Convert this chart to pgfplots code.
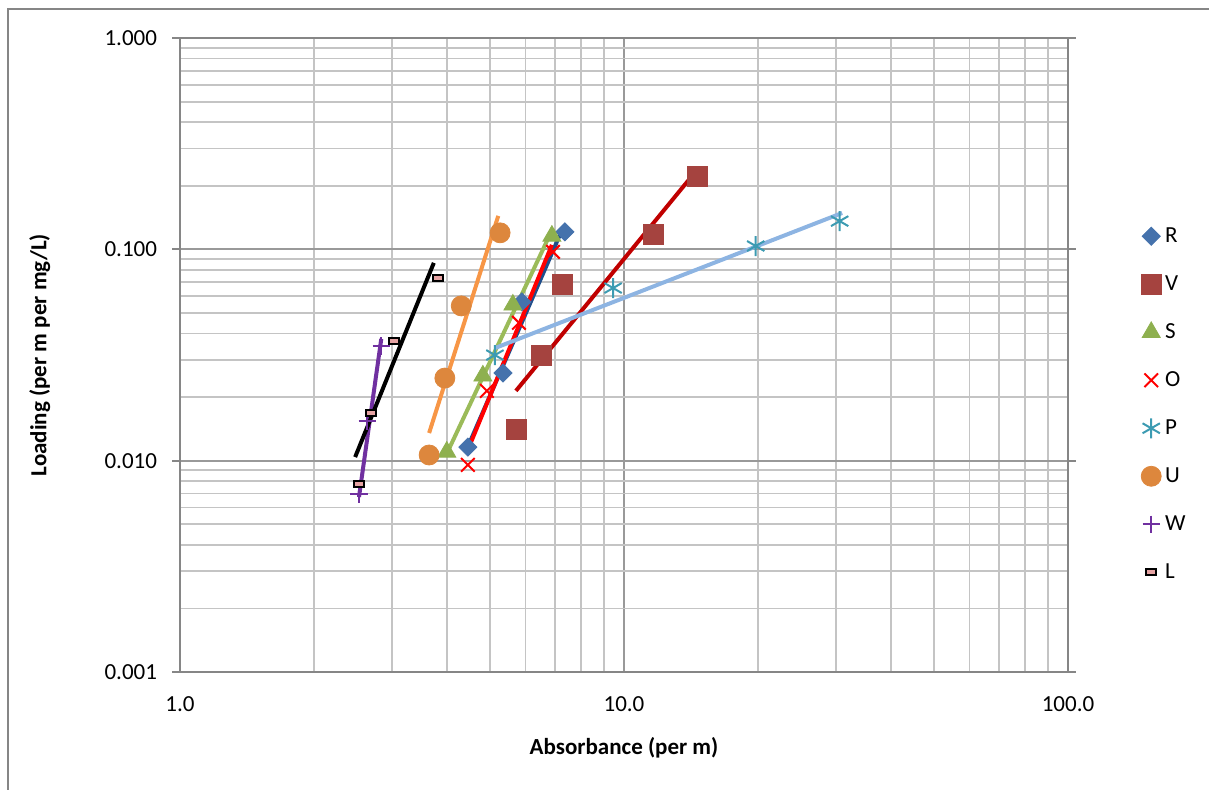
\documentclass[border=0pt]{standalone}
\usepackage{pgfplots}
\pgfplotsset{compat=1.18}
\usepackage{fontspec}
\setmainfont{Carlito}
\usetikzlibrary{plotmarks}
\definecolor{cR}{HTML}{4572AC}
\definecolor{cRl}{HTML}{1F4E8C}
\definecolor{cV}{HTML}{A5433F}
\definecolor{cVl}{HTML}{C00000}
\definecolor{cS}{HTML}{8EB04F}
\definecolor{cSl}{HTML}{9BBB59}
\definecolor{cO}{HTML}{FF0000}
\definecolor{cP}{HTML}{3C9BB2}
\definecolor{cPl}{HTML}{8DB4E2}
\definecolor{cU}{HTML}{DD873D}
\definecolor{cUl}{HTML}{F79646}
\definecolor{cW}{HTML}{7030A0}
\definecolor{cLf}{HTML}{E6A3A3}
\definecolor{majg}{HTML}{999999}
\definecolor{ming}{HTML}{C4C4C4}
\definecolor{axg}{HTML}{868686}
\begin{document}
\begin{tikzpicture}
\useasboundingbox (0,0) rectangle (604.5pt,394.5pt);
\draw[axg, line width=1pt] (4pt,-10pt) -- (4pt,390pt) -- (620pt,390pt);
\begin{axis}[
  at={(90pt,58.5pt)}, anchor=south west,
  scale only axis, width=444pt, height=317pt,
  xmode=log, ymode=log,
  xmin=1, xmax=100, ymin=0.001, ymax=1,
  xtick={1,10,100}, xticklabels={1.0,10.0,100.0},
  ytick={0.001,0.01,0.1,1}, yticklabels={0.001,0.010,0.100,1.000},
  minor xtick={2,3,4,5,6,7,8,9,20,30,40,50,60,70,80,90},
  minor ytick={0.002,0.003,0.004,0.005,0.006,0.007,0.008,0.009,0.02,0.03,0.04,0.05,0.06,0.07,0.08,0.09,0.2,0.3,0.4,0.5,0.6,0.7,0.8,0.9},
  grid=both,
  major grid style={majg, line width=0.9pt},
  minor grid style={ming, line width=0.9pt},
  axis line style={axg, line width=1pt},
  tick align=outside,
  major tick length=4pt, minor tick length=0pt,
  xtick style={draw=none},
  ytick style={axg, line width=1pt},
  xticklabel style={font=\fontsize{11.5}{13}\selectfont, yshift=-5pt},
  yticklabel style={font=\fontsize{11.5}{13}\selectfont, xshift=-4pt},
  xlabel={\textbf{Absorbance (per m)}},
  ylabel={\textbf{Loading (per m per mg/L)}},
  xlabel style={font=\fontsize{11.5}{13}\selectfont, at={(axis description cs:0.5,-0.12)}, anchor=center},
  ylabel style={font=\fontsize{11.5}{13}\selectfont, at={(axis description cs:-0.158,0.5)}, anchor=center},
  legend style={at={(axis description cs:1.082,0.71)}, anchor=north west, draw=none, fill=none,
    font=\fontsize{11.5}{13}\selectfont, row sep=10pt, inner sep=0pt,
    nodes={text height=8pt, text depth=2pt, inner sep=2pt}},
  legend cell align=left,
  clip=false,
]
% markers
\addplot[only marks, mark=square*, mark size=3.2pt, mark options={rotate=45, fill=cR, draw=cR}] coordinates {
 (4.45,0.0116) (5.34,0.026) (5.89,0.0564) (7.36,0.121)};
\addlegendentry{R}
\addplot[only marks, mark=square*, mark size=5pt, mark options={fill=cV, draw=cV}] coordinates {
 (5.71,0.0140) (6.50,0.0316) (7.25,0.0679) (11.62,0.118) (14.6,0.222)};
\addlegendentry{V}
\addplot[only marks, mark=triangle*, mark size=5.2pt, mark options={fill=cS, draw=cS}] coordinates {
 (3.99,0.0110) (4.81,0.0252) (5.62,0.0546) (6.88,0.1156)};
\addlegendentry{S}
\addplot[only marks, mark=x, mark size=4.8pt, mark options={draw=cO, line width=1pt}] coordinates {
 (4.45,0.00955) (4.91,0.0214) (5.80,0.0449) (6.92,0.0973)};
\addlegendentry{O}
\addplot[only marks, mark=asterisk, mark size=5pt, mark options={draw=cP, line width=1pt}] coordinates {
 (5.12,0.0316) (9.45,0.0656) (19.8,0.1037) (30.6,0.136)};
\addlegendentry{P}
\addplot[only marks, mark=*, mark size=5pt, mark options={fill=cU, draw=cU}] coordinates {
 (3.64,0.01064) (3.95,0.0246) (4.30,0.0540) (5.26,0.1197)};
\addlegendentry{U}
\addplot[only marks, mark=+, mark size=4.3pt, mark options={draw=cW, line width=1pt}] coordinates {
 (2.53,0.00695) (2.64,0.0154) (2.84,0.0349)};
\addlegendentry{W}
\addplot[only marks, mark=square*, mark size=2.6pt, mark options={fill=cLf, draw=black, line width=1pt, yscale=0.55}] coordinates {
 (2.53,0.00777) (2.69,0.0168) (3.03,0.0369) (3.81,0.0733)};
\addlegendentry{L}
% trendlines
\addplot[forget plot, no marks, cRl, line width=2pt] coordinates {(4.43,0.0114) (7.17,0.117)};
\addplot[forget plot, no marks, cVl, line width=2pt] coordinates {(5.71,0.0214) (14.6,0.2377)};
\addplot[forget plot, no marks, cSl, line width=2pt] coordinates {(3.99,0.0108) (6.92,0.126)};
\addplot[forget plot, no marks, cO, line width=2pt] coordinates {(4.45,0.01124) (6.88,0.105)};
\addplot[forget plot, no marks, cPl, line width=2pt] coordinates {(5.12,0.0341) (31.0,0.1486)};
\addplot[forget plot, no marks, cUl, line width=2pt] coordinates {(3.64,0.01352) (5.21,0.144)};
\addplot[forget plot, no marks, cW, line width=2pt] coordinates {(2.53,0.00673) (2.84,0.0377)};
\addplot[forget plot, no marks, black, line width=2pt] coordinates {(2.48,0.0104) (3.73,0.0863)};
\end{axis}
\end{tikzpicture}
\end{document}
